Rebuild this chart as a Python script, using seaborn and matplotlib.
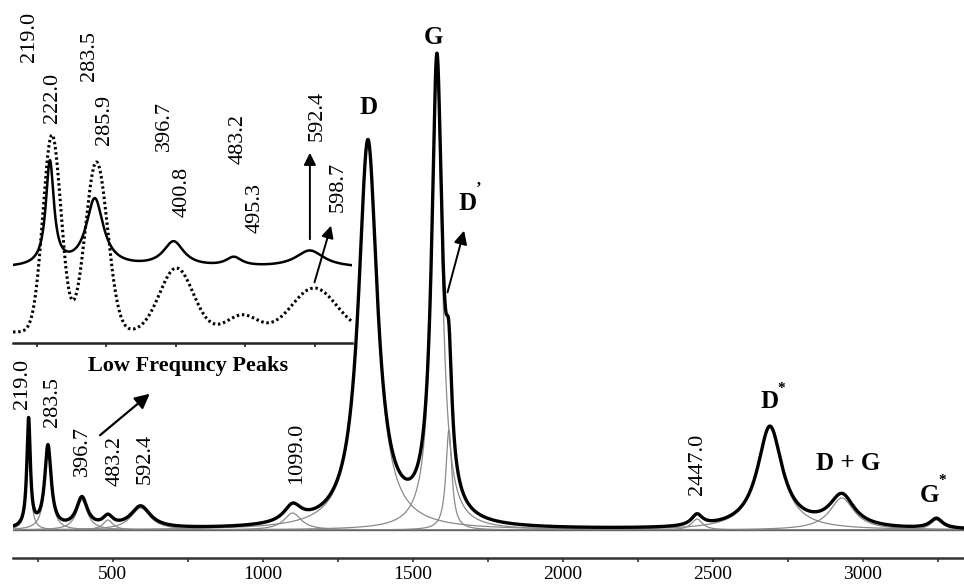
import numpy as np
import pandas as pd
import seaborn as sns
import matplotlib.pyplot as plt

# picos do espectro principal: centro (cm-1), altura, meia largura (lorentziana)
pico_centro = [219.0, 283.5, 396.7, 483.2, 592.4, 1099.0, 1350.0, 1580.0, 1620.0, 2447.0, 2690.0, 2930.0, 3245.0]
pico_altura = [108, 82, 30, 10, 22, 17, 386, 458, 100, 11, 102, 32, 10]
pico_largura = [7, 13, 22, 20, 40, 35, 38, 21, 12, 22, 50, 50, 25]

# inset de baixa frequencia: curva continua (lorentziana) e pontilhada (gaussiana)
inset_solida_centro = [219.0, 283.5, 396.7, 483.2, 592.4]
inset_solida_altura = [104, 68, 25, 9, 17]
inset_solida_largura = [7, 15, 18, 14, 25]
inset_solida_base = 75

inset_pont_centro = [222.0, 285.9, 400.8, 495.3, 598.7]
inset_pont_altura = [197, 170, 64, 17, 44]
inset_pont_largura = [13, 16, 24, 22, 32]
inset_pont_base = 11

ticks_principais = [500, 1000, 1500, 2000, 2500, 3000]
ticks_menores = [250, 750, 1250, 1750, 2250, 2750, 3250]
ticks_inset = [200, 300, 400, 500, 600]


def lorentz(x, c, h, g):
    return h / (1 + ((x - c) / g) ** 2)


def gauss(x, c, h, s):
    return h * np.exp(-(x - c) ** 2 / (2 * s ** 2))


sns.set_style('white')
plt.rcParams['font.family'] = ['Liberation Serif', 'DejaVu Serif']
plt.rcParams['text.color'] = 'black'
plt.rcParams['xtick.labelcolor'] = 'black'

fig = plt.figure(figsize=(9.64, 5.85), dpi=100)

# ---------------- espectro principal ----------------
ax = fig.add_axes([13 / 964, 27 / 585, 951 / 964, 558 / 585])
x = np.linspace(167, 3337, 5000)

componentes = []
for c, h, g in zip(pico_centro, pico_altura, pico_largura):
    componentes.append(pd.DataFrame({'x': x, 'y': lorentz(x, c, h, g), 'pico': str(c)}))
df_comp = pd.concat(componentes)
envelope = df_comp.groupby('x')['y'].sum().reset_index()

sns.lineplot(data=df_comp, x='x', y='y', units='pico', estimator=None,
             color='#8a8a8a', lw=0.9, ax=ax)
ax.axhline(0, color='#666666', lw=1.0)
sns.lineplot(data=envelope, x='x', y='y', color='black', lw=2.4, ax=ax)

ax.set_xlim(167, 3337)
ax.set_ylim(-28, 530)
ax.set_xticks(ticks_principais)
ax.set_xticks(ticks_menores, minor=True)
ax.set_yticks([])
ax.set_xlabel('')
ax.set_ylabel('')
for s in ['left', 'right', 'top']:
    ax.spines[s].set_visible(False)
ax.spines['bottom'].set_color('#333333')
ax.spines['bottom'].set_linewidth(1.8)
ax.tick_params(axis='x', which='both', direction='out', length=3, width=1.2,
               color='#333333', labelsize=14, pad=3, bottom=True)

# rotulos dos picos menores
rot_pos = {219.0: (197, 146), 283.5: (300, 128), 396.7: (400, 79), 483.2: (507, 69),
           592.4: (607, 71), 1099.0: (1113, 77), 2447.0: (2450, 66)}
for c, (px, py) in rot_pos.items():
    ax.text(px, py, f'{c:.1f}', rotation=90, ha='center', va='center', fontsize=16)

bold = dict(fontweight='bold', ha='center', va='center')
ax.text(750, 164, 'Low Frequncy Peaks', fontsize=16, **bold)
ax.annotate('', xy=(630, 138), xytext=(450, 93),
            arrowprops=dict(arrowstyle='-|>', color='black', lw=1.6, mutation_scale=22))
ax.text(1353, 423, 'D', fontsize=18, **bold)
ax.text(1570, 493, 'G', fontsize=18, **bold)
ax.text(1683, 326, 'D', fontsize=18, **bold)
ax.text(1721, 341, '\u2019', fontsize=12, **bold)
ax.annotate('', xy=(1673, 302), xytext=(1613, 235),
            arrowprops=dict(arrowstyle='-|>', color='black', lw=1.4, mutation_scale=20))
ax.text(2690, 128, 'D', fontsize=18, **bold)
ax.text(2727, 141, '*', fontsize=11, **bold)
ax.text(2950, 67, 'D + G', fontsize=18, **bold)
ax.text(3223, 35, 'G', fontsize=18, **bold)
ax.text(3265, 49, '*', fontsize=11, **bold)

# ---------------- inset ----------------
axi = fig.add_axes([13 / 964, (585 - 343) / 585, 339 / 964, 343 / 585])
axi.patch.set_alpha(0)
xi = np.linspace(166, 653, 2000)
y_sol = inset_solida_base + sum(lorentz(xi, c, h, g) for c, h, g in
                                zip(inset_solida_centro, inset_solida_altura, inset_solida_largura))
y_pont = inset_pont_base + sum(gauss(xi, c, h, s) for c, h, s in
                               zip(inset_pont_centro, inset_pont_altura, inset_pont_largura))
df_inset = pd.DataFrame({'x': xi, 'solida': y_sol, 'pontilhada': y_pont})

sns.lineplot(data=df_inset, x='x', y='solida', color='black', lw=1.8, ax=axi)
sns.lineplot(data=df_inset, x='x', y='pontilhada', color='black', lw=2.2,
             linestyle=(0, (0.8, 0.9)), ax=axi)

axi.set_xlim(166, 653)
axi.set_ylim(0, 343)
axi.set_xticks(ticks_inset)
axi.set_xticklabels([])
axi.set_yticks([])
axi.set_xlabel('')
axi.set_ylabel('')
for s in ['left', 'right', 'top']:
    axi.spines[s].set_visible(False)
axi.spines['bottom'].set_color('#222222')
axi.spines['bottom'].set_linewidth(1.8)
axi.tick_params(axis='x', direction='out', length=3, width=1.2, color='#222222', bottom=True)

inset_pos_sol = {219.0: (190, 306), 283.5: (276, 287), 396.7: (384, 217),
                 483.2: (489, 204), 592.4: (603, 227)}
inset_pos_pont = {222.0: (223, 245), 285.9: (298, 223), 400.8: (409, 151),
                  495.3: (514, 135), 598.7: (633, 156)}
for c, (px, py) in list(inset_pos_sol.items()) + list(inset_pos_pont.items()):
    axi.text(px, py, f'{c:.1f}', rotation=90, ha='center', va='center', fontsize=16)

axi.annotate('', xy=(592.5, 193), xytext=(592.5, 101),
             arrowprops=dict(arrowstyle='-|>', color='black', lw=1.4, mutation_scale=18))
axi.annotate('', xy=(624, 120), xytext=(598, 58),
             arrowprops=dict(arrowstyle='-|>', color='black', lw=1.4, mutation_scale=18))

plt.savefig('out.png', dpi=100)
